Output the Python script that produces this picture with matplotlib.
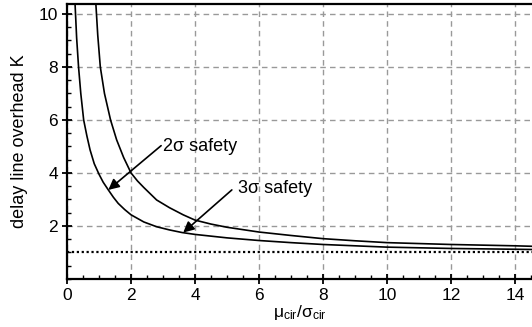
import matplotlib
matplotlib.use('Agg')
import matplotlib.pyplot as plt
from matplotlib.ticker import MultipleLocator

plt.rcParams['font.family'] = ['Liberation Sans', 'DejaVu Sans']
plt.rcParams['mathtext.default'] = 'regular'

#########################################################
# Curves
#########################################################
x_2sigma = [0.25, 0.3, 0.36, 0.43, 0.52, 0.62, 0.72, 0.85, 1.0, 1.13, 1.29, 1.45,
            1.6, 1.8, 2.0, 2.4, 2.8, 3.2, 3.6, 4.0, 5.0, 6.0, 7.0, 8.0, 9.0,
            10.0, 12.0, 14.0, 14.6]
k_2sigma = [10.4, 9.1, 8.0, 7.0, 6.0, 5.4, 4.87, 4.35, 3.95, 3.65, 3.36, 3.08,
            2.85, 2.62, 2.42, 2.15, 1.97, 1.85, 1.75, 1.68, 1.55, 1.45, 1.37, 1.3, 1.25,
            1.2, 1.15, 1.12, 1.11]

x_3sigma = [0.9, 0.96, 1.04, 1.17, 1.36, 1.55, 1.77, 2.0, 2.2, 2.4, 2.8, 3.2, 3.63,
            4.0, 4.5, 5.0, 6.0, 7.0, 8.0, 9.0, 10.0, 12.0, 14.0, 14.6]
k_3sigma = [10.4, 9.2, 8.0, 7.0, 6.0, 5.25, 4.58, 4.0, 3.7, 3.45, 2.98, 2.69, 2.42,
            2.22, 2.07, 1.95, 1.77, 1.64, 1.52, 1.44, 1.37, 1.3, 1.25, 1.23]

baseline_k = 1.0

x_ticks = [0, 2, 4, 6, 8, 10, 12, 14]
y_ticks = [2, 4, 6, 8, 10]

#########################################################
# Plot
#########################################################
fig = plt.figure(figsize=(5.32, 3.27), dpi=100)
ax = fig.add_axes([0.126, 0.147, 0.874, 0.841])

ax.plot(x_2sigma, k_2sigma, color='k', lw=1.2)
ax.plot(x_3sigma, k_3sigma, color='k', lw=1.2)
ax.axhline(baseline_k, color='k', lw=1.6, linestyle=(0, (1, 1.2)))

ax.set_xlim(0, 14.53)
ax.set_ylim(0, 10.38)
ax.set_xticks(x_ticks)
ax.set_yticks(y_ticks)
ax.xaxis.set_minor_locator(MultipleLocator(0.5))
ax.yaxis.set_minor_locator(MultipleLocator(0.5))
ax.tick_params(which='major', direction='inout', length=7, width=1.3,
               labelsize=12.5, pad=3)
ax.tick_params(which='minor', direction='in', length=3, width=1.0)
ax.tick_params(axis='x', which='both', top=False)
ax.tick_params(axis='y', which='both', right=False)

ax.grid(True, which='major', color='#999999', linestyle=(0, (4, 3)), lw=1.0)
ax.set_axisbelow(True)

for side in ['left', 'bottom', 'top']:
    ax.spines[side].set_linewidth(1.6)
ax.spines['right'].set_visible(False)

ax.set_ylabel('delay line overhead K', fontsize=13, labelpad=8)
ax.set_xlabel('$μ_{cir}/σ_{cir}$', fontsize=12.5, labelpad=0)

arrow = dict(arrowstyle='-|>', color='k', lw=1.2, mutation_scale=16,
             shrinkA=0, shrinkB=0)
ax.annotate('', xy=(1.29, 3.36), xytext=(2.94, 5.03), arrowprops=arrow)
ax.text(3.0, 5.0, '2σ safety', fontsize=13, va='center', ha='left')
ax.annotate('', xy=(3.63, 1.75), xytext=(5.15, 3.36), arrowprops=arrow)
ax.text(5.35, 3.42, '3σ safety', fontsize=13, va='center', ha='left')

plt.savefig('out.png', dpi=100)
